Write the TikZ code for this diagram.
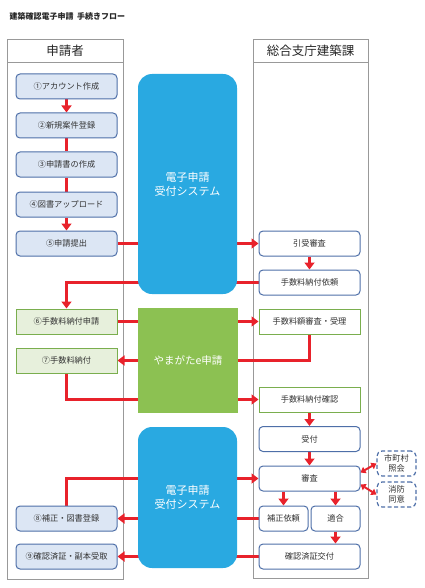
\documentclass[tikz,border=0pt]{standalone}
\usepackage{fontspec}
\setmainfont{Noto Sans CJK JP}
\usetikzlibrary{arrows.meta,backgrounds}

\definecolor{sysBlue}{HTML}{29A9E1}
\definecolor{eGreen}{HTML}{8CC152}
\definecolor{flowRed}{HTML}{E8222B}
\definecolor{boxBlue}{HTML}{4E6FA8}
\definecolor{boxBlueFill}{HTML}{DCE6F4}
\definecolor{boxGreen}{HTML}{7AAE4E}
\definecolor{boxGreenFill}{HTML}{E7F0DC}
\definecolor{laneGray}{HTML}{999999}

\tikzset{
  baseBox/.style={minimum height=25pt, inner sep=0pt, line width=1pt,
    font=\fontsize{8.2}{9}\selectfont, text=black!80},
  applyBox/.style={baseBox, minimum width=101pt, draw=boxBlue, fill=boxBlueFill, rounded corners=4pt},
  feeBox/.style={baseBox, minimum width=101pt, draw=boxGreen, fill=boxGreenFill},
  officeBox/.style={baseBox, minimum width=101pt, draw=boxBlue, fill=white, rounded corners=4pt},
  officeFeeBox/.style={baseBox, minimum width=101pt, draw=boxGreen, fill=white},
  halfBox/.style={officeBox, minimum width=49pt},
  extBox/.style={baseBox, minimum width=39pt, draw=boxBlue, line width=1.2pt,
    dash pattern=on 4pt off 2.5pt, rounded corners=5pt,
    align=center, font=\fontsize{8.2}{9.5}\selectfont},
  sysBox/.style={fill=sysBlue, text=white, rounded corners=14pt, align=center,
    font=\fontsize{11}{14}\selectfont, inner sep=0pt},
  eBox/.style={fill=eGreen, text=white, align=center,
    font=\fontsize{10.5}{13}\selectfont, inner sep=0pt},
  laneHead/.style={font=\fontsize{12.5}{14}\selectfont, text=black!85},
  lane/.style={draw=laneGray, line width=0.9pt},
  flow/.style={draw=flowRed, line width=3pt, -{Triangle[length=7pt,width=10pt]}},
  flowLine/.style={draw=flowRed, line width=3pt},
  askFlow/.style={draw=flowRed, line width=2pt,
    {Triangle[length=5pt,width=7pt]}-{Triangle[length=5pt,width=7pt]}}
}

\begin{document}
\begin{tikzpicture}[x=1pt,y=-1pt]
\useasboundingbox (0,0) rectangle (424,588);

\node[anchor=west, font=\fontsize{8}{9}\selectfont\bfseries, text=black!85] (title) at (6,16)
  {建築確認電子申請\ \ 手続きフロー};

% lanes
\begin{scope}[on background layer]
\draw[lane] (7,39) rectangle (123,579);
\draw[lane] (7,62) -- (123,62);
\draw[lane] (253,39) rectangle (368,578);
\draw[lane] (253,62) -- (368,62);
\end{scope}
\node[laneHead] (applicant) at (65,50.5) {申請者};
\node[laneHead] (office) at (310.5,50.5) {総合支庁建築課};

% applicant side
\node[applyBox] (account) at (66.5,86.5) {①アカウント作成};
\node[applyBox] (newCase) at (66.5,125.5) {②新規案件登録};
\node[applyBox] (makeForm) at (66.5,164.5) {③申請書の作成};
\node[applyBox] (upload) at (66.5,204.5) {④図書アップロード};
\node[applyBox] (submit) at (66.5,243.5) {⑤申請提出};
\node[feeBox] (feeApply) at (66.5,321.5) {⑥手数料納付申請};
\node[feeBox] (feePay) at (66.5,360.5) {⑦手数料納付};
\node[applyBox] (amend) at (66.5,518.5) {⑧補正・図書登録};
\node[applyBox] (receive) at (66.5,556.5) {⑨確認済証・副本受取};

% systems
\node[sysBox, minimum width=99pt, minimum height=220pt] (sysFirst) at (187.5,184) {電子申請\\受付システム};
\node[eBox, minimum width=100pt, minimum height=105pt] (yamagata) at (188,360.5) {やまがたe申請};
\node[sysBox, minimum width=99pt, minimum height=141pt] (sysSecond) at (187.5,497.5) {電子申請\\受付システム};

% office side
\node[officeBox] (accept) at (309.5,243.5) {引受審査};
\node[officeBox] (feeRequest) at (309.5,282.5) {手数料納付依頼};
\node[officeFeeBox] (feeCheck) at (309.5,321.5) {手数料額審査・受理};
\node[officeFeeBox] (feeConfirm) at (309.5,399.5) {手数料納付確認};
\node[officeBox] (reception) at (309.5,439) {受付};
\node[officeBox] (review) at (309.5,478.5) {審査};
\node[halfBox] (correct) at (283.5,518.5) {補正依頼};
\node[halfBox] (pass) at (335.5,518.5) {適合};
\node[officeBox] (issue) at (309.5,556.5) {確認済証交付};
\node[extBox] (city) at (396.5,463.5) {市町村\\照会};
\node[extBox] (fire) at (396.5,494.5) {消防\\同意};

% flows
\begin{scope}[on background layer]
\draw[flow] (account) -- (newCase);
\draw[flowLine] (newCase) -- (makeForm);
\draw[flowLine] (makeForm) -- (upload);
\draw[flow] (upload) -- (submit);
\draw[flow] (submit.east) -- (accept.west);
\draw[flow] (accept) -- (feeRequest);
\draw[flow] (feeRequest.west) -| (feeApply.north);
\draw[flow] (feeApply.east) -- (feeCheck.west);
\draw[flow] (feeCheck.south) |- (feePay.east);
\draw[flow] (feePay.south) |- (feeConfirm.west);
\draw[flow] (feeConfirm) -- (reception);
\draw[flow] (reception) -- (review);
\draw[flow] (amend.north) |- (review.west);
\draw[flow] (review.south -| correct.north) -- (correct.north);
\draw[flow] (review.south -| pass.north) -- (pass.north);
\draw[flow] (correct.west) -- (amend.east);
\draw[flow] (pass.south) -- (pass.south |- issue.north);
\draw[flow] (issue.west) -- (receive.east);
\draw[askFlow] ([yshift=6pt]review.east) -- (city.west);
\draw[askFlow] ([yshift=-6pt]review.east) -- (fire.west);
\end{scope}
\end{tikzpicture}
\end{document}
